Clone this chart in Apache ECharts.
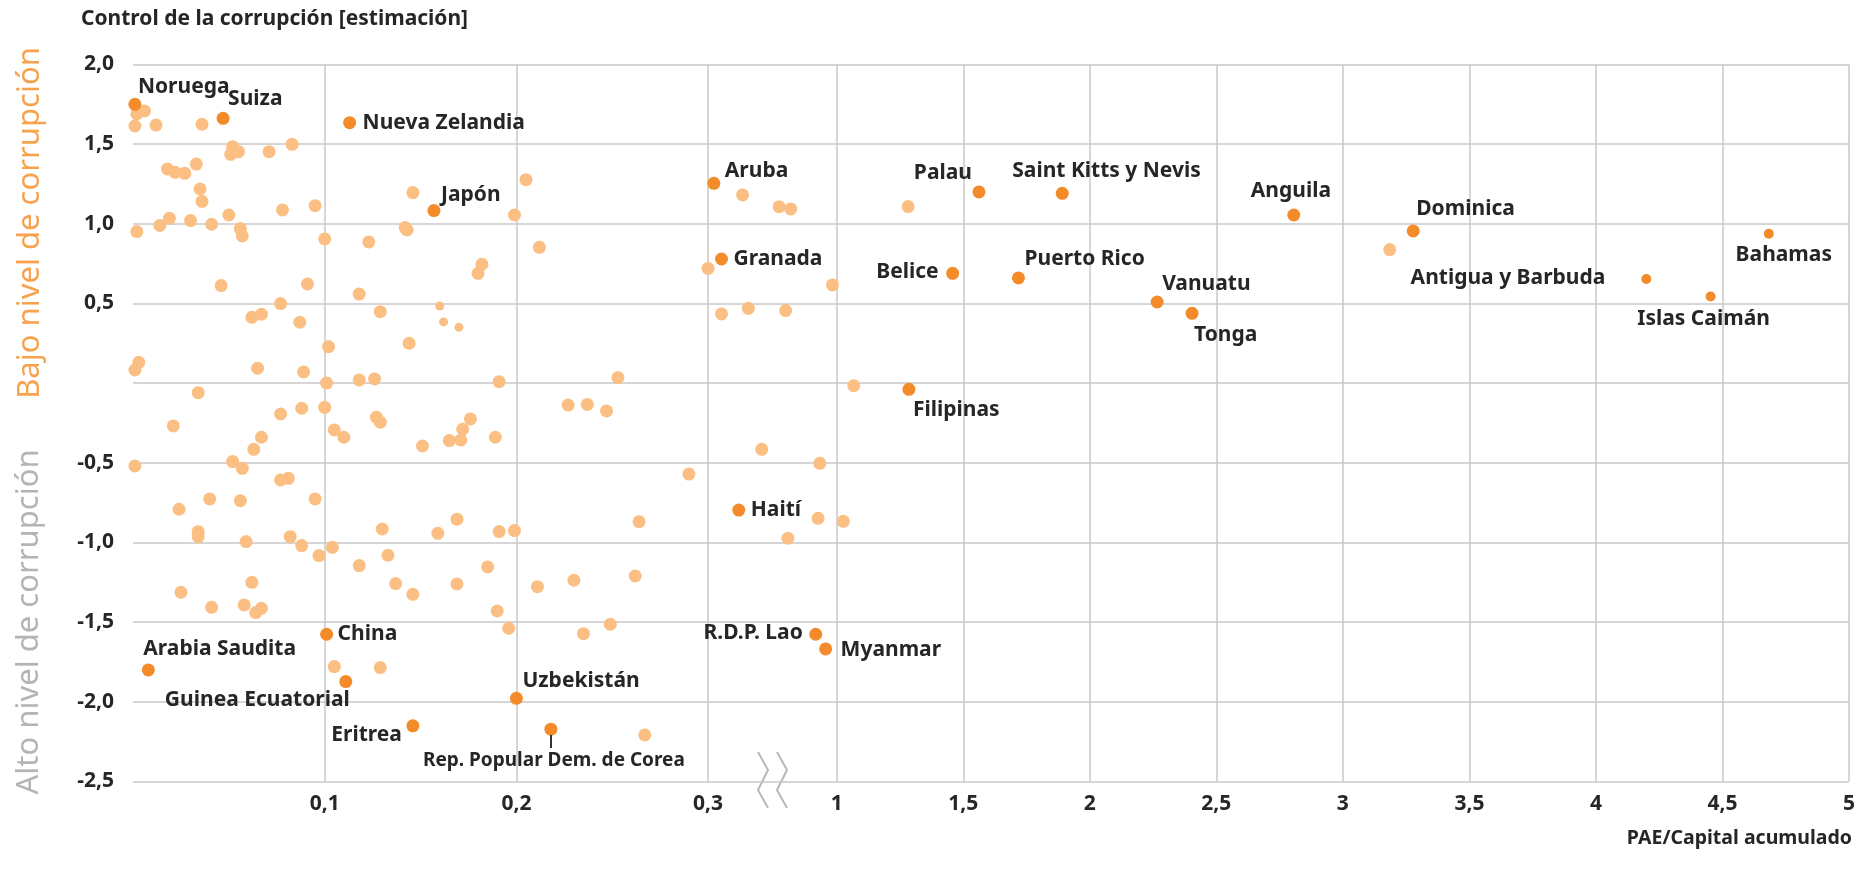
<!DOCTYPE html>
<html>
<head>
<meta charset="utf-8">
<script src="https://cdn.jsdelivr.net/npm/echarts@6/dist/echarts.min.js"></script>
<style>
  html, body { margin: 0; padding: 0; background: #fff; }
  #chart { width: 1858px; height: 872px; }
</style>
</head>
<body>
<div id="chart"></div>
<script>
// unlabelled countries, left part of the x axis (0 - 0.33)
const leftX = [0.006, 0.002, 0.001, 0.012, 0.036, 0.052, 0.051, 0.055, 0.071, 0.083,
  0.018, 0.022, 0.027, 0.033, 0.035, 0.036, 0.050, 0.078, 0.095, 0.019,
  0.014, 0.002, 0.030, 0.041, 0.056, 0.057, 0.100, 0.123, 0.142, 0.143,
  0.146, 0.199, 0.205, 0.212, 0.182, 0.180, 0.046, 0.091, 0.118, 0.077,
  0.062, 0.067, 0.087, 0.129, 0.102, 0.144, 0.003, 0.001, 0.065, 0.089,
  0.101, 0.118, 0.126, 0.191, 0.034, 0.021, 0.077, 0.088, 0.100, 0.127,
  0.129, 0.176, 0.172, 0.105, 0.110, 0.151, 0.165, 0.171, 0.189, 0.067,
  0.063, 0.001, 0.052, 0.057, 0.077, 0.081, 0.024, 0.040, 0.056, 0.095,
  0.034, 0.034, 0.059, 0.082, 0.088, 0.097, 0.104, 0.130, 0.118, 0.133,
  0.159, 0.169, 0.191, 0.199, 0.137, 0.146, 0.169, 0.185, 0.190, 0.025,
  0.062, 0.041, 0.058, 0.064, 0.067, 0.105, 0.129, 0.328, 0.290, 0.264,
  0.211, 0.230, 0.262, 0.196, 0.235, 0.249, 0.267, 0.318, 0.300, 0.307,
  0.321, 0.253, 0.227, 0.237, 0.247];
const leftY = [1.708, 1.690, 1.614, 1.620, 1.625, 1.484, 1.436, 1.453, 1.453, 1.499,
  1.344, 1.323, 1.317, 1.375, 1.219, 1.141, 1.055, 1.087, 1.114, 1.034,
  0.990, 0.951, 1.020, 0.997, 0.970, 0.924, 0.905, 0.886, 0.976, 0.961,
  1.196, 1.055, 1.277, 0.852, 0.746, 0.689, 0.612, 0.622, 0.559, 0.499,
  0.413, 0.432, 0.382, 0.448, 0.229, 0.250, 0.130, 0.082, 0.093, 0.070,
  0.000, 0.020, 0.026, 0.009, -0.060, -0.269, -0.194, -0.158, -0.152, -0.215,
  -0.246, -0.225, -0.290, -0.294, -0.340, -0.395, -0.361, -0.357, -0.340, -0.340,
  -0.416, -0.520, -0.493, -0.535, -0.608, -0.598, -0.792, -0.727, -0.738, -0.727,
  -0.933, -0.964, -0.995, -0.964, -1.020, -1.083, -1.031, -0.916, -1.146, -1.081,
  -0.943, -0.855, -0.932, -0.926, -1.259, -1.326, -1.261, -1.154, -1.431, -1.313,
  -1.251, -1.408, -1.393, -1.441, -1.414, -1.780, -1.786, -0.416, -0.571, -0.870,
  -1.278, -1.238, -1.211, -1.539, -1.573, -1.514, -2.209, 1.181, 0.720, 0.434,
  0.469, 0.034, -0.138, -0.134, -0.175];

// small unlabelled dots
const smallX = [0.160, 0.162, 0.170];
const smallY = [0.484, 0.384, 0.350];

// unlabelled countries, right part of the x axis (1 - 5)
const rightX = [0.933, 0.926, 0.807, 1.026, 0.772, 0.818, 0.983, 0.798, 1.282, 1.067, 3.185];
const rightY = [-0.504, -0.849, -0.974, -0.868, 1.107, 1.093, 0.616, 0.455, 1.108, -0.016, 0.838];

// labelled countries
const names = ['Noruega', 'Suiza', 'Nueva Zelandia', 'Japón', 'Aruba', 'Granada', 'Haití',
  'China', 'Arabia Saudita', 'Guinea Ecuatorial', 'Eritrea', 'Uzbekistán',
  'Rep. Popular Dem. de Corea', 'R.D.P. Lao', 'Myanmar', 'Filipinas', 'Belice', 'Palau',
  'Puerto Rico', 'Saint Kitts y Nevis', 'Vanuatu', 'Tonga', 'Anguila', 'Dominica',
  'Antigua y Barbuda', 'Islas Caimán', 'Bahamas'];
const namesX = [0.001, 0.047, 0.113, 0.157, 0.303, 0.307, 0.316,
  0.101, 0.008, 0.111, 0.146, 0.200,
  0.218, 0.917, 0.956, 1.285, 1.458, 1.562,
  1.718, 1.891, 2.266, 2.404, 2.806, 3.278,
  4.199, 4.453, 4.683];
const namesY = [1.750, 1.662, 1.635, 1.083, 1.254, 0.779, -0.797,
  -1.577, -1.801, -1.874, -2.152, -1.979,
  -2.173, -1.577, -1.669, -0.039, 0.689, 1.200,
  0.660, 1.191, 0.509, 0.438, 1.055, 0.955,
  0.653, 0.543, 0.938];

const leftTicks = [0.1, 0.2, 0.3];
const rightTicks = [1, 1.5, 2, 2.5, 3, 3.5, 4, 4.5, 5];
const smallMarks = ['Antigua y Barbuda', 'Islas Caimán', 'Bahamas'];

// label placement: [align, dx, dy]
const labelPlace = {
  'Noruega': ['left', 3, -17],
  'Suiza': ['left', 5, -19],
  'Nueva Zelandia': ['left', 13, 0],
  'Japón': ['left', 7, -16],
  'Aruba': ['left', 11, -12],
  'Granada': ['left', 12, 0],
  'Haití': ['left', 12, 0],
  'China': ['left', 11, 0],
  'Arabia Saudita': ['left', -5, -21],
  'Guinea Ecuatorial': ['right', 4, 18],
  'Eritrea': ['right', -11, 9],
  'Uzbekistán': ['left', 6, -17],
  'Rep. Popular Dem. de Corea': ['center', 3, 31],
  'R.D.P. Lao': ['right', -13, -1],
  'Myanmar': ['left', 15, 1],
  'Filipinas': ['left', 4, 21],
  'Belice': ['right', -14, -1],
  'Palau': ['right', -7, -19],
  'Puerto Rico': ['left', 6, -19],
  'Saint Kitts y Nevis': ['left', -50, -22],
  'Vanuatu': ['left', 5, -18],
  'Tonga': ['left', 2, 22],
  'Anguila': ['left', -43, -24],
  'Dominica': ['left', 3, -22],
  'Antigua y Barbuda': ['right', -41, -1],
  'Islas Caimán': ['center', -7, 22],
  'Bahamas': ['center', 15, 21]
};

const LIGHT = '#fbbf84';
const DARK = '#f38b2b';
const TXT = '#262626';
const GRIDC = '#c9c9c9';
const FONT = '"Noto Sans", sans-serif';

function comma(v) {
  return String(v).replace('.', ',');
}

function pairs(xs, ys) {
  return xs.map((x, i) => [x, ys[i]]);
}

function labelled(side) {
  let out = [];
  names.forEach((n, i) => {
    let isLeft = namesX[i] < 0.5;
    if ((side === 0) !== isLeft) return;
    let p = labelPlace[n];
    let lab = { align: p[0], offset: [p[1], p[2]] };
    if (n.length > 20) lab.fontSize = 19;
    out.push({
      name: n,
      value: [namesX[i], namesY[i]],
      symbolSize: smallMarks.indexOf(n) >= 0 ? 10 : 13,
      label: lab
    });
  });
  return out;
}

const labelStyle = {
  show: true,
  position: 'inside',
  formatter: '{b}',
  color: TXT,
  fontSize: 21,
  fontWeight: 'bold',
  fontFamily: FONT,
  verticalAlign: 'middle'
};

const chart = echarts.init(document.getElementById('chart'));

const yAxisBase = {
  type: 'value',
  min: -2.5,
  max: 2,
  interval: 0.5,
  axisLine: { show: false },
  axisTick: { show: false },
  splitLine: { show: true, lineStyle: { color: GRIDC, width: 1.5 } }
};

chart.setOption({
  animation: false,
  title: {
    text: 'Control de la corrupción [estimación]',
    left: 76,
    top: 4,
    textStyle: { fontSize: 21, fontWeight: 'bold', color: TXT, fontFamily: FONT }
  },
  grid: [
    { left: 133, top: 64.5, width: 637, height: 716.8 },
    { left: 770, top: 64.5, width: 1083, height: 716.8 }
  ],
  xAxis: [{
    type: 'value', gridIndex: 0, min: 0, max: 0.3323,
    axisLine: { show: false },
    axisTick: { show: false, customValues: leftTicks },
    axisLabel: {
      customValues: leftTicks, margin: 12, color: TXT, fontSize: 21,
      fontWeight: 'bold', fontFamily: FONT, formatter: v => comma(v)
    },
    splitLine: { show: true, lineStyle: { color: GRIDC, width: 1.5 } }
  }, {
    type: 'value', gridIndex: 1, min: 0.7362, max: 5,
    axisLine: { show: false },
    axisTick: { show: false, customValues: rightTicks },
    axisLabel: {
      customValues: rightTicks, margin: 12, color: TXT, fontSize: 21,
      fontWeight: 'bold', fontFamily: FONT, formatter: v => comma(v)
    },
    splitLine: { show: true, lineStyle: { color: GRIDC, width: 1.5 } }
  }],
  yAxis: [Object.assign({}, yAxisBase, {
    gridIndex: 0,
    axisLabel: {
      margin: 19, color: TXT, fontSize: 21, fontWeight: 'bold', fontFamily: FONT,
      formatter: v => v === 0 ? '' : comma(v.toFixed(1))
    }
  }), Object.assign({}, yAxisBase, {
    gridIndex: 1,
    axisLabel: { show: false }
  })],
  series: [{
    type: 'scatter', xAxisIndex: 0, yAxisIndex: 0,
    symbolSize: 13, itemStyle: { color: LIGHT, opacity: 1 },
    data: pairs(leftX, leftY)
  }, {
    type: 'scatter', xAxisIndex: 0, yAxisIndex: 0,
    symbolSize: 9, itemStyle: { color: LIGHT, opacity: 1 },
    data: pairs(smallX, smallY)
  }, {
    type: 'scatter', xAxisIndex: 1, yAxisIndex: 1,
    symbolSize: 13, itemStyle: { color: LIGHT, opacity: 1 },
    data: pairs(rightX, rightY)
  }, {
    type: 'scatter', xAxisIndex: 0, yAxisIndex: 0,
    itemStyle: { color: DARK, opacity: 1 },
    label: labelStyle,
    data: labelled(0),
    markLine: {
      silent: true,
      symbol: 'none',
      label: { show: false },
      lineStyle: { color: '#333', width: 2, type: 'solid' },
      data: [[{ coord: [0.218, -2.209] }, { coord: [0.218, -2.291] }]]
    }
  }, {
    type: 'scatter', xAxisIndex: 1, yAxisIndex: 1,
    itemStyle: { color: DARK, opacity: 1 },
    label: labelStyle,
    data: labelled(1)
  }],
  graphic: [{
    type: 'text', x: 30, y: 223, rotation: Math.PI / 2,
    style: {
      text: 'Bajo nivel de corrupción', fill: '#f6a24e',
      fontSize: 31, fontFamily: FONT, align: 'center', verticalAlign: 'middle'
    }
  }, {
    type: 'text', x: 29, y: 622, rotation: Math.PI / 2,
    style: {
      text: 'Alto nivel de corrupción', fill: '#b4b4b4',
      fontSize: 31, fontFamily: FONT, align: 'center', verticalAlign: 'middle'
    }
  }, {
    type: 'text', x: 1852, y: 838,
    style: {
      text: 'PAE/Capital acumulado', fill: TXT, fontSize: 19.5, fontWeight: 'bold',
      fontFamily: FONT, align: 'right', verticalAlign: 'middle'
    }
  }, {
    type: 'polyline',
    shape: { points: [[758, 752], [768, 770], [758, 790], [768, 808]] },
    style: { stroke: '#b8b8b8', lineWidth: 2, fill: null }
  }, {
    type: 'polyline',
    shape: { points: [[777, 752], [787, 770], [777, 790], [787, 808]] },
    style: { stroke: '#b8b8b8', lineWidth: 2, fill: null }
  }]
});
</script>
</body>
</html>
